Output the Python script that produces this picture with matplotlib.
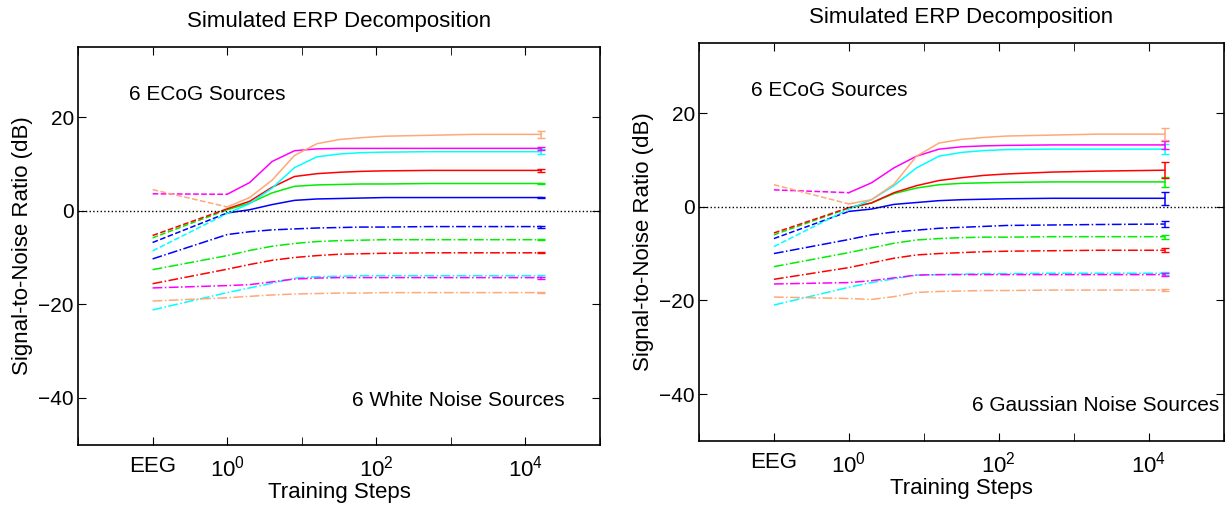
import numpy as np
import matplotlib
matplotlib.use('Agg')
import matplotlib.pyplot as plt
from matplotlib.ticker import FixedLocator, FixedFormatter, NullFormatter

plt.rcParams['font.family'] = ['Liberation Sans', 'DejaVu Sans']
plt.rcParams['mathtext.fontset'] = 'custom'
plt.rcParams['mathtext.rm'] = 'Liberation Sans'
plt.rcParams['mathtext.it'] = 'Liberation Sans'

# training steps; first entry is the EEG point, drawn at 10^-1
steps = [0.1, 1, 2, 4, 8, 16, 32, 64, 128, 512, 2048, 16384]

colors = ['#0000ff', '#00ee00', '#ff0000', '#00ffff', '#ff00ff', '#ffa878']

# left panel: white noise
left_sig = [
    [-6.8, -0.5, 0.2, 1.3, 2.2, 2.5, 2.6, 2.7, 2.8, 2.8, 2.8, 2.8],
    [-5.8, 0.2, 1.6, 3.8, 5.2, 5.5, 5.6, 5.7, 5.7, 5.8, 5.8, 5.8],
    [-5.3, 0.4, 2.0, 5.0, 7.3, 7.9, 8.2, 8.4, 8.5, 8.6, 8.6, 8.6],
    [-8.6, -0.6, 1.5, 4.8, 9.2, 11.5, 12.1, 12.4, 12.5, 12.6, 12.6, 12.6],
    [3.6, 3.5, 6.0, 10.5, 12.8, 13.2, 13.3, 13.3, 13.3, 13.3, 13.3, 13.3],
    [4.5, 0.8, 2.8, 6.5, 11.8, 14.3, 15.2, 15.6, 15.9, 16.1, 16.3, 16.3],
]
left_noise = [
    [-10.3, -5.1, -4.5, -4.1, -3.9, -3.7, -3.6, -3.5, -3.5, -3.4, -3.4, -3.4],
    [-12.6, -9.6, -8.5, -7.6, -7.0, -6.6, -6.4, -6.3, -6.2, -6.2, -6.2, -6.2],
    [-15.6, -12.5, -11.5, -10.6, -10.0, -9.6, -9.3, -9.2, -9.1, -9.0, -9.0, -9.0],
    [-21.2, -17.5, -16.5, -15.5, -14.4, -14.1, -14.0, -13.9, -13.9, -13.9, -13.9, -13.9],
    [-16.5, -16.0, -15.8, -15.2, -14.6, -14.4, -14.3, -14.3, -14.3, -14.3, -14.3, -14.3],
    [-19.3, -18.6, -18.3, -18.0, -17.8, -17.7, -17.6, -17.6, -17.5, -17.5, -17.5, -17.5],
]
left_sig_err = [0.2, 0.2, 0.3, 0.5, 0.4, 0.8]
left_noise_err = [0.2, 0.1, 0.1, 0.2, 0.2, 0.1]

# right panel: gaussian noise
right_sig = [
    [-6.8, -1.0, -0.5, 0.5, 0.9, 1.3, 1.5, 1.6, 1.7, 1.8, 1.8, 1.8],
    [-6.0, -0.3, 0.8, 2.8, 4.0, 4.7, 5.0, 5.1, 5.2, 5.3, 5.3, 5.3],
    [-5.6, -0.2, 0.8, 3.0, 4.5, 5.6, 6.2, 6.7, 7.0, 7.4, 7.6, 7.8],
    [-8.5, -0.5, 1.5, 4.5, 8.3, 10.8, 11.6, 12.0, 12.2, 12.3, 12.3, 12.3],
    [3.6, 3.0, 5.1, 8.3, 10.8, 12.3, 12.8, 13.0, 13.1, 13.2, 13.2, 13.2],
    [4.7, 0.6, 1.5, 4.8, 10.8, 13.6, 14.4, 14.8, 15.1, 15.3, 15.5, 15.5],
]
right_noise = [
    [-10.0, -7.0, -6.0, -5.4, -5.0, -4.6, -4.4, -4.2, -4.0, -3.9, -3.8, -3.7],
    [-12.8, -9.8, -8.8, -7.8, -7.1, -6.8, -6.6, -6.5, -6.5, -6.4, -6.4, -6.4],
    [-15.5, -13.0, -12.0, -11.0, -10.3, -10.0, -9.8, -9.6, -9.5, -9.4, -9.3, -9.3],
    [-21.0, -17.2, -16.2, -15.4, -14.6, -14.5, -14.4, -14.3, -14.3, -14.2, -14.2, -14.2],
    [-16.5, -16.2, -15.8, -15.2, -14.6, -14.5, -14.5, -14.5, -14.5, -14.5, -14.5, -14.5],
    [-19.3, -19.6, -19.8, -19.2, -18.3, -18.1, -18.0, -17.9, -17.9, -17.8, -17.8, -17.8],
]
right_sig_err = [1.4, 1.0, 1.7, 1.0, 0.8, 1.3]
right_noise_err = [0.7, 0.4, 0.4, 0.3, 0.3, 0.3]

xtick_pos = [0.1, 1, 100, 10000]
xtick_lab = ['EEG', '$10^0$', '$10^2$', '$10^4$']


def draw_panel(ax, sig, noise, sig_err, noise_err, noise_name, noise_xy):
    for k in range(6):
        c = colors[k]
        ax.plot(steps[:2], sig[k][:2], '--', color=c, lw=1.1)
        ax.plot(steps[1:], sig[k][1:], '-', color=c, lw=1.1)
        ax.errorbar(steps[-1], sig[k][-1], yerr=sig_err[k], color=c, lw=1.1, capsize=3)
        ax.plot(steps, noise[k], '-.', color=c, lw=1.1)
        ax.errorbar(steps[-1], noise[k][-1], yerr=noise_err[k], color=c, lw=1.1, capsize=3)
    ax.axhline(0, color='k', ls=':', lw=1)
    ax.set_xscale('log')
    ax.set_xlim(1e-2, 1e5)
    ax.set_ylim(-50, 35)
    ax.xaxis.set_major_locator(FixedLocator(xtick_pos))
    ax.xaxis.set_major_formatter(FixedFormatter(xtick_lab))
    ax.xaxis.set_minor_locator(FixedLocator([1e-2, 10, 1000, 1e5]))
    ax.xaxis.set_minor_formatter(NullFormatter())
    ax.set_yticks([-40, -20, 0, 20])
    ax.tick_params(which='both', direction='in', top=True, right=True, length=6,
                   labelsize=16, pad=8)
    ax.tick_params(axis='y', pad=3, labelsize=15)
    for s in ax.spines.values():
        s.set_linewidth(1.2)
    ax.set_title('Simulated ERP Decomposition', fontsize=16, pad=14)
    ax.set_xlabel('Training Steps', fontsize=16, labelpad=0)
    ax.set_ylabel('Signal-to-Noise Ratio (dB)', fontsize=16)
    ax.text(0.049, 24.8, '6 ECoG Sources', fontsize=15, va='center')
    ax.text(noise_xy[0], noise_xy[1], noise_name, fontsize=15, va='center', ha='right')


fig = plt.figure(figsize=(12.25, 5.12), dpi=100)
ax1 = fig.add_axes([0.0637, 0.1313, 0.4261, 0.7773])
ax2 = fig.add_axes([0.5706, 0.139, 0.4282, 0.7773])

draw_panel(ax1, left_sig, left_noise, left_sig_err, left_noise_err,
           '6 White Noise Sources', (10 ** 4.53, -40.6))
draw_panel(ax2, right_sig, right_noise, right_sig_err, right_noise_err,
           '6 Gaussian Noise Sources', (10 ** 4.94, -42.5))

fig.savefig('out.png', dpi=100)
